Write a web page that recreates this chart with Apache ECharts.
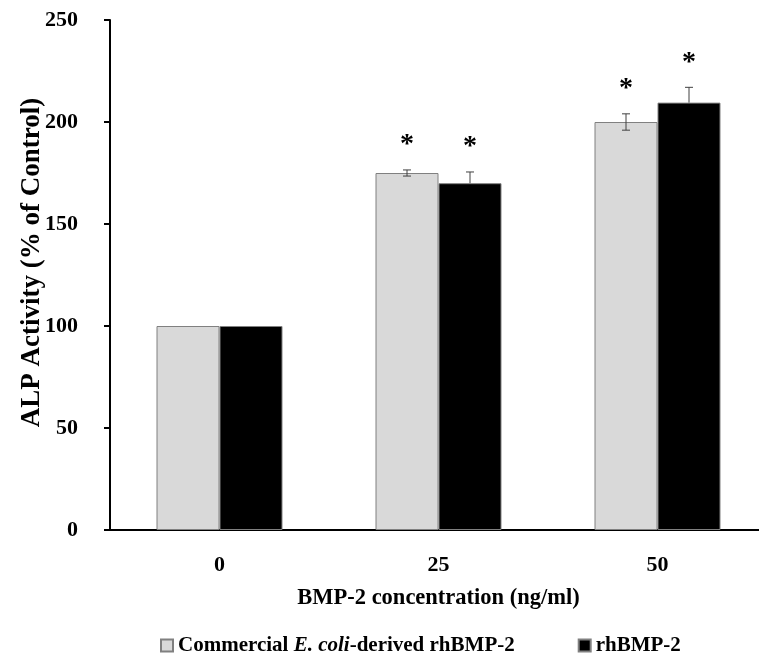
<!DOCTYPE html>
<html>
<head>
<meta charset="utf-8">
<script src="https://cdn.jsdelivr.net/npm/echarts@6/dist/echarts.min.js"></script>
<style>
  html, body { margin: 0; padding: 0; background: #fff; }
  #chart { width: 759px; height: 657px; }
</style>
</head>
<body>
<div id="chart"></div>
<script>
// BMP-2 concentration (ng/ml)
var categories = ['0', '25', '50']
var yTicks = [0, 50, 100, 150, 200, 250]

var commercialName = 'Commercial E. coli-derived rhBMP-2'
var rhName = 'rhBMP-2'

var commercialValues = [100, 175, 200]
var rhValues = [100, 170, 209.5]
var commercialErr = [0, 1.5, 4]
var rhErr = [0, 5.5, 7.5]
var commercialSig = ['', '*', '*']
var rhSig = ['', '*', '*']

var serif = '"Liberation Serif", "Times New Roman", serif'
var barW = 63

// error bar + asterisk, shifted left/right of category centre
var errSeries = function(values, errs, sigs, shift, showLower) {
  return {
    type: 'custom',
    z: 5,
    silent: true,
    data: values.map(function(v, i) { return [i, v, errs[i], sigs[i]] }),
    renderItem: function(params, api) {
      var i = api.value(0)
      var v = api.value(1)
      var e = api.value(2)
      var hi = api.coord([i, v + e])
      var mid = api.coord([i, v])
      var lo = api.coord([i, v - e])
      var x = hi[0] + shift
      var st = { stroke: '#404040', lineWidth: 1 }
      var kids = []
      if (e > 0) {
        kids.push({ type: 'line', shape: { x1: x, y1: hi[1], x2: x, y2: showLower ? lo[1] : mid[1] }, style: st })
        kids.push({ type: 'line', shape: { x1: x - 4, y1: hi[1], x2: x + 4, y2: hi[1] }, style: st })
        if (showLower) {
          kids.push({ type: 'line', shape: { x1: x - 4, y1: lo[1], x2: x + 4, y2: lo[1] }, style: st })
        }
      }
      if (api.value(3)) {
        kids.push({
          type: 'text',
          style: {
            text: '*', x: x, y: hi[1] - 11,
            align: 'center', verticalAlign: 'bottom',
            font: 'bold 28px ' + serif, fill: '#000'
          }
        })
      }
      return { type: 'group', children: kids }
    }
  }
}

var chart = echarts.init(document.getElementById('chart'))
var option = {
  animation: false,
  grid: { left: 110, width: 657, top: 20, bottom: 127, outerBoundsMode: 'none', containLabel: false },
  legend: {
    data: [commercialName, rhName],
    left: 155,
    top: 630,
    itemWidth: 12,
    itemHeight: 12,
    itemGap: 63,
    icon: 'rect',
    textStyle: {
      fontFamily: serif, fontSize: 21, fontWeight: 'bold', color: '#000',
      rich: {
        b: { fontFamily: serif, fontSize: 21, fontWeight: 'bold', color: '#000' },
        i: { fontFamily: serif, fontSize: 21, fontWeight: 'bold', fontStyle: 'italic', color: '#000' }
      }
    },
    formatter: function(name) {
      if (name === commercialName) return '{b|Commercial }{i|E. coli}{b|-derived rhBMP-2}'
      return '{b|' + name + '}'
    }
  },
  xAxis: {
    type: 'category',
    data: categories,
    name: 'BMP-2 concentration (ng/ml)',
    nameLocation: 'middle',
    nameGap: 57,
    nameTextStyle: { fontFamily: serif, fontSize: 22.5, fontWeight: 'bold', color: '#000' },
    axisLine: { lineStyle: { color: '#000', width: 2 } },
    axisTick: { show: false },
    axisLabel: { margin: 24, fontFamily: serif, fontSize: 22, fontWeight: 'bold', color: '#000' }
  },
  yAxis: {
    type: 'value',
    min: yTicks[0],
    max: yTicks[yTicks.length - 1],
    interval: 50,
    name: 'ALP Activity (% of Control)',
    nameLocation: 'middle',
    nameGap: 64,
    nameMoveOverlap: false,
    nameTextStyle: { fontFamily: serif, fontSize: 27, fontWeight: 'bold', color: '#000', padding: [0, 0, 0, 25] },
    axisLine: { show: true, lineStyle: { color: '#000', width: 2 } },
    axisTick: { show: true, length: 6, lineStyle: { color: '#000', width: 2 } },
    axisLabel: { margin: 32, fontFamily: serif, fontSize: 22, fontWeight: 'bold', color: '#000' },
    splitLine: { show: false }
  },
  series: [
    {
      name: commercialName,
      type: 'bar',
      data: commercialValues,
      barWidth: barW,
      barGap: '0%',
      itemStyle: { color: '#d9d9d9', borderColor: '#808080', borderWidth: 1 }
    },
    {
      name: rhName,
      type: 'bar',
      data: rhValues,
      barWidth: barW,
      barGap: '0%',
      itemStyle: { color: '#000', borderColor: '#808080', borderWidth: 1 }
    },
    errSeries(commercialValues, commercialErr, commercialSig, -barW / 2, true),
    errSeries(rhValues, rhErr, rhSig, barW / 2, false)
  ]
}
chart.setOption(option)
</script>
</body>
</html>
